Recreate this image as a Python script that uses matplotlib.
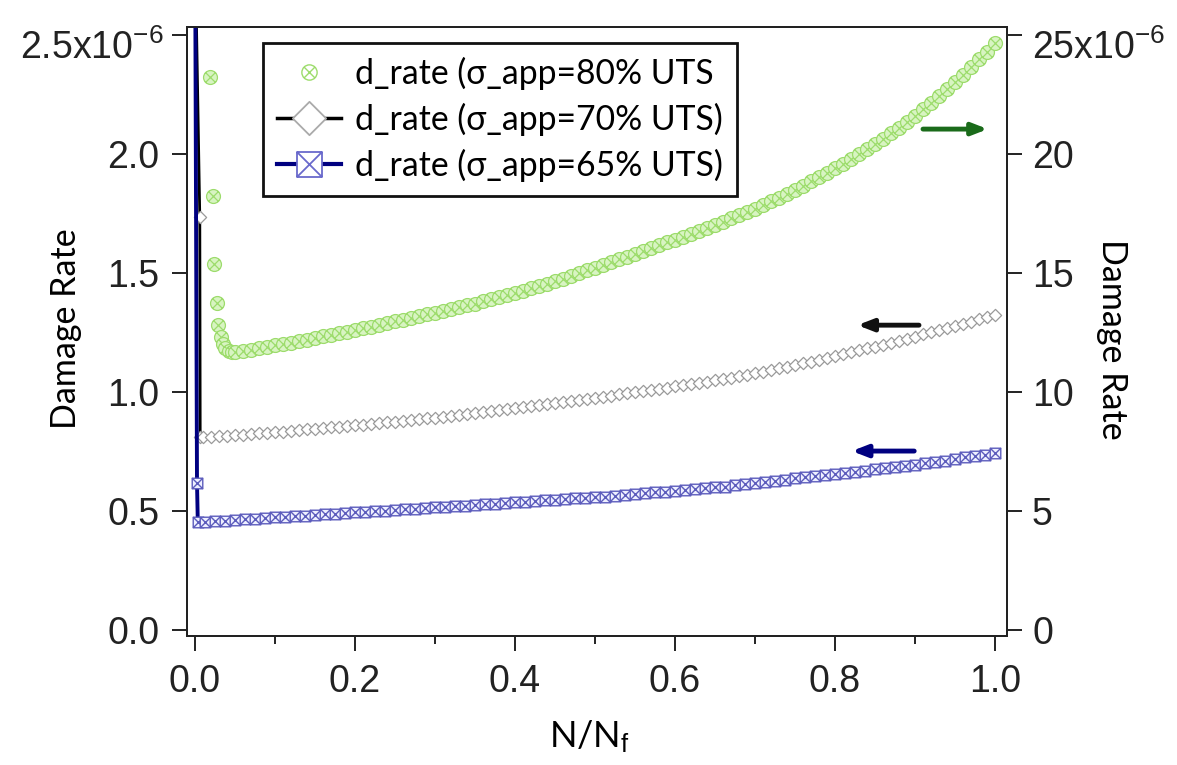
import numpy as np
import matplotlib
matplotlib.use('Agg')
import matplotlib.pyplot as plt
from matplotlib.path import Path
from matplotlib.lines import Line2D
from matplotlib.font_manager import FontProperties

plt.rcParams['font.family'] = ['Liberation Sans', 'DejaVu Sans']
plt.rcParams['mathtext.fontset'] = 'custom'
plt.rcParams['mathtext.rm'] = 'Liberation Sans'
plt.rcParams['mathtext.it'] = 'Liberation Sans:italic'
plt.rcParams['mathtext.default'] = 'regular'

# ---------------- data ----------------
# sigma_app = 80% UTS (right axis, x1e-6)
green_x_start = [0.019, 0.022, 0.024, 0.027, 0.029, 0.032, 0.035, 0.038, 0.042, 0.046]
green_y_start = [23.25, 18.25, 15.38, 13.74, 12.82, 12.32, 12.02, 11.84, 11.74, 11.69]
green_x_main = np.round(np.arange(5, 101) * 0.01, 4)
green_y_main = [11.69, 11.73, 11.78, 11.84, 11.90, 11.96, 12.02, 12.08, 12.14, 12.20,
                12.27, 12.34, 12.40, 12.47, 12.54, 12.61, 12.68, 12.75, 12.82, 12.90,
                12.97, 13.04, 13.11, 13.18, 13.26, 13.33, 13.41, 13.48, 13.56, 13.64,
                13.72, 13.81, 13.90, 13.99, 14.08, 14.17, 14.26, 14.36, 14.45, 14.55,
                14.65, 14.76, 14.88, 14.99, 15.11, 15.22, 15.34, 15.46, 15.58, 15.69,
                15.81, 15.93, 16.05, 16.17, 16.29, 16.41, 16.53, 16.65, 16.78, 16.90,
                17.03, 17.16, 17.30, 17.43, 17.57, 17.71, 17.86, 18.01, 18.17, 18.33,
                18.50, 18.67, 18.85, 19.03, 19.21, 19.40, 19.59, 19.79, 19.99, 20.20,
                20.42, 20.64, 20.87, 21.11, 21.36, 21.62, 21.89, 22.16, 22.44, 22.73,
                23.03, 23.34, 23.65, 23.98, 24.31, 24.65]

# sigma_app = 70% UTS (left axis, x1e-6)
black_x_start = [0.0, 0.006, 0.0065]
black_y_start = [2.9, 1.735, 0.809]
black_x_main = np.round(np.arange(1, 101) * 0.01, 4)
black_y_main = [0.809, 0.811, 0.814, 0.816, 0.819, 0.821, 0.824, 0.826, 0.829, 0.832,
                0.834, 0.837, 0.840, 0.843, 0.845, 0.848, 0.851, 0.854, 0.857, 0.860,
                0.863, 0.866, 0.869, 0.872, 0.875, 0.879, 0.882, 0.886, 0.889, 0.893,
                0.897, 0.900, 0.904, 0.908, 0.912, 0.916, 0.920, 0.924, 0.928, 0.932,
                0.936, 0.940, 0.945, 0.949, 0.953, 0.958, 0.962, 0.967, 0.971, 0.976,
                0.981, 0.985, 0.990, 0.995, 1.000, 1.004, 1.009, 1.014, 1.019, 1.024,
                1.029, 1.034, 1.039, 1.044, 1.049, 1.055, 1.061, 1.067, 1.073, 1.079,
                1.086, 1.093, 1.100, 1.107, 1.114, 1.121, 1.128, 1.135, 1.143, 1.151,
                1.159, 1.167, 1.175, 1.183, 1.191, 1.199, 1.207, 1.215, 1.224, 1.233,
                1.242, 1.251, 1.260, 1.269, 1.278, 1.287, 1.296, 1.305, 1.314, 1.323]

# sigma_app = 65% UTS (left axis, x1e-6)
blue_x_start = [0.0, 0.0025, 0.0035]
blue_y_start = [3.0, 0.617, 0.455]
blue_x_main = np.round(np.arange(1, 81) * 0.0125, 5)
blue_y_main = [0.455, 0.458, 0.460, 0.463, 0.465, 0.468, 0.471, 0.473, 0.476, 0.478,
               0.481, 0.483, 0.486, 0.488, 0.491, 0.494, 0.496, 0.499, 0.501, 0.504,
               0.507, 0.509, 0.512, 0.515, 0.517, 0.520, 0.523, 0.525, 0.528, 0.531,
               0.534, 0.536, 0.539, 0.542, 0.545, 0.547, 0.550, 0.553, 0.556, 0.558,
               0.561, 0.565, 0.568, 0.572, 0.575, 0.578, 0.582, 0.585, 0.589, 0.592,
               0.595, 0.599, 0.603, 0.608, 0.613, 0.618, 0.622, 0.627, 0.632, 0.637,
               0.641, 0.646, 0.651, 0.656, 0.660, 0.665, 0.670, 0.675, 0.679, 0.684,
               0.689, 0.694, 0.700, 0.706, 0.712, 0.719, 0.725, 0.731, 0.737, 0.744]

labels = ['d_rate (σ_app=80% UTS', 'd_rate (σ_app=70% UTS)', 'd_rate (σ_app=65% UTS)']
left_ticks = [0.0, 0.5, 1.0, 1.5, 2.0, 2.5]
left_ticklabels = ['0.0', '0.5', '1.0', '1.5', '2.0', '']
left_top_label = '2.5x10$^{-6}$'
right_ticks = [0, 5, 10, 15, 20, 25]
right_ticklabels = ['0', '5', '10', '15', '20', '']
right_top_label = '25x10$^{-6}$'
x_ticks = [0.0, 0.2, 0.4, 0.6, 0.8, 1.0]
x_minor = [0.1, 0.3, 0.5, 0.7, 0.9]

# ---------------- markers ----------------
k = 0.7071
circ = Path.unit_circle()
xcross = Path([(-k, -k), (k, k), (-k, k), (k, -k)],
              [Path.MOVETO, Path.LINETO, Path.MOVETO, Path.LINETO])
circx = Path.make_compound_path(circ, xcross)
sq = Path([(-1, -1), (1, -1), (1, 1), (-1, 1), (-1, -1)],
          [Path.MOVETO, Path.LINETO, Path.LINETO, Path.LINETO, Path.CLOSEPOLY])
sqcross = Path([(-1, -1), (1, 1), (-1, 1), (1, -1)],
               [Path.MOVETO, Path.LINETO, Path.MOVETO, Path.LINETO])
sqx = Path.make_compound_path(sq, sqcross)
diamond = Path([(0, 1), (1, 0), (0, -1), (-1, 0), (0, 1)],
               [Path.MOVETO, Path.LINETO, Path.LINETO, Path.LINETO, Path.CLOSEPOLY])

green_edge = '#9ddc6c'
green_face = '#d8f4c2'
gray_edge = '#9a9a9a'
blue_edge = '#5c5cbc'
navy = '#000080'
tick_col = '#222222'

# ---------------- figure ----------------
fig = plt.figure(figsize=(11.77, 7.65), dpi=100)
ax = fig.add_axes([187 / 1177, 1 - 636 / 765, 820 / 1177, 609 / 765])
ax2 = ax.twinx()

black_x = list(black_x_start) + list(black_x_main)
black_y = list(black_y_start) + list(black_y_main)
blue_x = list(blue_x_start) + list(blue_x_main)
blue_y = list(blue_y_start) + list(blue_y_main)
green_x = list(green_x_start) + list(green_x_main)
green_y = list(green_y_start) + list(green_y_main)

s = 1e-6
ax.plot(np.array(black_x[:4]), np.array(black_y[:4]) * s, color='black', lw=2, zorder=2)
ax.plot(np.array(black_x[1:]), np.array(black_y[1:]) * s, ls='none', marker=diamond,
        ms=8.8, mec=gray_edge, mfc='white', mew=0.9, zorder=3)
ax.plot(np.array(blue_x[:4]), np.array(blue_y[:4]) * s, color=navy, lw=2.8, zorder=4)
ax.plot(np.array(blue_x[1:]), np.array(blue_y[1:]) * s, ls='none', marker=sqx,
        ms=7.6, mec=blue_edge, mfc='#eef0ff', mew=1.0, zorder=5)
ax2.plot(np.array(green_x), np.array(green_y) * s, ls='none', marker=circx,
         ms=10, mec=green_edge, mfc=green_face, mew=0.9, zorder=3)

ax.set_xlim(-0.01, 1.015)
ax.set_ylim(-0.0252e-6, 2.534e-6)
ax2.set_ylim(-0.252e-6, 25.34e-6)

ax.set_xticks(x_ticks, ['%.1f' % v for v in x_ticks])
ax.set_xticks(x_minor, minor=True)
ax.set_yticks(np.array(left_ticks) * s, left_ticklabels)
ax2.set_yticks(np.array(right_ticks) * s, right_ticklabels)

for a in (ax, ax2):
    for sp in a.spines.values():
        sp.set_linewidth(1.4)
        sp.set_color(tick_col)
ax.tick_params(axis='both', which='major', direction='out', length=11, width=1.4,
               labelsize=27, colors=tick_col)
ax.tick_params(axis='x', which='minor', direction='out', length=6, width=1.4, colors=tick_col)
ax.tick_params(axis='x', which='major', pad=9)
ax.tick_params(axis='y', which='major', pad=9)
ax2.tick_params(axis='y', which='major', direction='out', length=11, width=1.4,
                labelsize=27, colors=tick_col, pad=7)

# top tick labels carrying the exponent
ax.annotate(left_top_label, xy=(0, left_ticks[-1] * s), xycoords=('axes fraction', 'data'),
            xytext=(-17, -17.5), textcoords='offset points', ha='right', va='baseline',
            fontsize=27, color=tick_col, annotation_clip=False)
ax2.annotate(right_top_label, xy=(1, right_ticks[-1] * s), xycoords=('axes fraction', 'data'),
             xytext=(18, -17.5), textcoords='offset points', ha='left', va='baseline',
             fontsize=27, color=tick_col, annotation_clip=False)

lab_font = FontProperties(family=['Lato', 'DejaVu Sans'], size=24.5)
ax.set_ylabel('Damage Rate', fontproperties=lab_font)
ax.yaxis.set_label_coords(-0.128, 0.505)
ax2.set_ylabel('Damage Rate', fontproperties=lab_font, rotation=270, va='center')
ax2.yaxis.set_label_coords(1.128, 0.487)
xl_font = FontProperties(family=['Lato', 'DejaVu Sans'], size=26)
ax.set_xlabel('N/N$_\\mathrm{f}$', fontproperties=xl_font)
ax.xaxis.set_label_coords(0.491, -0.135)

# arrows
ax.annotate('', xy=(0.991, 2.105e-6), xytext=(0.91, 2.105e-6),
            arrowprops=dict(arrowstyle='-|>,head_length=0.9,head_width=0.35', lw=3.5,
                            color='#1a6b1a', shrinkA=0, shrinkB=0), zorder=6)
ax.annotate('', xy=(0.828, 1.281e-6), xytext=(0.905, 1.281e-6),
            arrowprops=dict(arrowstyle='-|>,head_length=0.9,head_width=0.35', lw=3.5,
                            color='#111111', shrinkA=0, shrinkB=0), zorder=6)
ax.annotate('', xy=(0.821, 0.752e-6), xytext=(0.899, 0.752e-6),
            arrowprops=dict(arrowstyle='-|>,head_length=0.9,head_width=0.35', lw=3.5,
                            color=navy, shrinkA=0, shrinkB=0), zorder=6)

# legend
h_green = Line2D([], [], ls='none', marker=circx, ms=11, mec=green_edge, mfc='white', mew=1.0)
h_black = Line2D([], [], color='black', lw=2.5, marker=diamond, ms=24, mec='#aaaaaa',
                 mfc='white', mew=1.3)
h_blue = Line2D([], [], color=navy, lw=3, marker=sqx, ms=18, mec='#6a6acc',
                mfc='white', mew=1.3)
leg_font = FontProperties(family=['Lato', 'DejaVu Sans'], size=24.3)
leg = ax2.legend([h_green, h_black, h_blue], labels, prop=leg_font,
                 loc='upper left', bbox_to_anchor=((263 - 187) / 820, (636 - 43) / 609),
                 frameon=True, fancybox=False, edgecolor='#111111', framealpha=1,
                 borderaxespad=0, borderpad=0.42, handlelength=1.9, handletextpad=0.4,
                 labelspacing=0.38)
leg.get_frame().set_linewidth(2)
leg.set_zorder(10)

fig.savefig('out.png', dpi=100)
